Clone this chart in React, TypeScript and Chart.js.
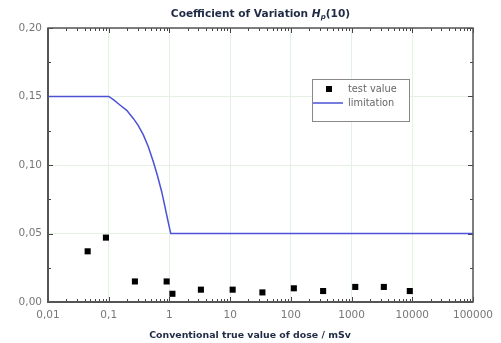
import React, { useEffect, useRef } from "react";
import { Chart, registerables } from "chart.js";

Chart.register(...registerables);

const testDose = [0.045, 0.09, 0.27, 0.9, 1.12, 3.3, 11, 34, 112, 340, 1150, 3400, 9100];
const testCV = [0.037, 0.047, 0.015, 0.015, 0.006, 0.009, 0.009, 0.007, 0.010, 0.008, 0.011, 0.011, 0.008];
const limitDose = [0.01, 0.1, 0.121, 0.153, 0.198, 0.254, 0.307, 0.372, 0.449, 0.543, 0.637, 0.746, 0.821, 0.902, 0.973, 1.05, 100000];
const limitCV = [0.15, 0.15, 0.1475, 0.1438, 0.1399, 0.134, 0.1288, 0.122, 0.1134, 0.1024, 0.092, 0.0805, 0.072, 0.0635, 0.0566, 0.05, 0.05];
const xTickLabels = ["0,01", "0,1", "1", "10", "100", "1000", "10000", "100000"];
const yTickLabels = ["0,00", "0,05", "0,10", "0,15", "0,20"];
const titleText = "Coefficient of Variation ";
const xTitle = "Conventional true value of dose / mSv";
const legendLabels = ["test value", "limitation"];

const FONT = "'DejaVu Sans', Verdana, sans-serif";

const decorPlugin = {
  id: "decor",
  beforeDatasetsDraw(chart: any) {
    const { ctx, chartArea: a, scales } = chart;
    const xs = scales.x;
    const ys = scales.y;
    ctx.save();
    ctx.strokeStyle = "#444";
    ctx.lineWidth = 1;
    for (let e = -2; e < 5; e++) {
      for (let m = 1; m <= 10; m++) {
        const v = m * Math.pow(10, e);
        const px = Math.round(xs.getPixelForValue(v)) + 0.5;
        const len = m === 1 || m === 10 ? 5 : 3;
        ctx.beginPath();
        ctx.moveTo(px, a.bottom);
        ctx.lineTo(px, a.bottom - len);
        ctx.moveTo(px, a.top);
        ctx.lineTo(px, a.top + len);
        ctx.stroke();
      }
    }
    for (let i = 0; i <= 8; i++) {
      const v = i * 0.025;
      const py = Math.round(ys.getPixelForValue(v)) + 0.5;
      const len = i % 2 === 0 ? 5 : 3;
      ctx.beginPath();
      ctx.moveTo(a.left, py);
      ctx.lineTo(a.left + len, py);
      ctx.moveTo(a.right, py);
      ctx.lineTo(a.right - len, py);
      ctx.stroke();
    }
    ctx.restore();
  },
  afterDraw(chart: any) {
    const { ctx, chartArea: a } = chart;
    ctx.save();
    ctx.strokeStyle = "#555";
    ctx.lineWidth = 1.5;
    ctx.strokeRect(a.left, a.top, a.right - a.left, a.bottom - a.top);
    ctx.lineWidth = 2;
    ctx.beginPath();
    ctx.moveTo(a.left, a.top);
    ctx.lineTo(a.left, a.bottom);
    ctx.lineTo(a.right, a.bottom);
    ctx.stroke();

    const cx = (a.left + a.right) / 2;
    const ty = 17;
    ctx.fillStyle = "#1f2a44";
    ctx.textBaseline = "alphabetic";
    const f1 = `bold 10.6px ${FONT}`;
    const f2 = `italic bold 10.6px ${FONT}`;
    const f3 = `italic bold 7px ${FONT}`;
    ctx.font = f1;
    const w1 = ctx.measureText(titleText).width;
    const w4 = ctx.measureText("(10)").width;
    ctx.font = f2;
    const w2 = ctx.measureText("H").width;
    ctx.font = f3;
    const w3 = ctx.measureText("p").width;
    let x = cx - (w1 + w2 + w3 + w4) / 2;
    ctx.textAlign = "left";
    ctx.font = f1;
    ctx.fillText(titleText, x, ty);
    x += w1;
    ctx.font = f2;
    ctx.fillText("H", x, ty);
    x += w2;
    ctx.font = f3;
    ctx.fillText("p", x, ty + 2);
    x += w3;
    ctx.font = f1;
    ctx.fillText("(10)", x, ty);

    ctx.font = `bold 9.4px ${FONT}`;
    ctx.textAlign = "center";
    ctx.fillText(xTitle, 250, 338);

    const lx = 312, ly = 79, lw = 97, lh = 42;
    ctx.fillStyle = "#fff";
    ctx.fillRect(lx, ly, lw, lh);
    ctx.strokeStyle = "#888";
    ctx.lineWidth = 1;
    ctx.strokeRect(lx + 0.5, ly + 0.5, lw, lh);
    ctx.fillStyle = "#000";
    ctx.fillRect(326, 86, 6, 6);
    ctx.strokeStyle = "#4b52d6";
    ctx.lineWidth = 1.5;
    ctx.beginPath();
    ctx.moveTo(313, 103);
    ctx.lineTo(343, 103);
    ctx.stroke();
    ctx.fillStyle = "#666";
    ctx.font = `9.8px ${FONT}`;
    ctx.textAlign = "left";
    ctx.textBaseline = "middle";
    ctx.fillText(legendLabels[0], 348, 89);
    ctx.fillText(legendLabels[1], 348, 103);
    ctx.restore();
  },
};

export default function App() {
  const ref = useRef<HTMLCanvasElement>(null);
  useEffect(() => {
    document.body.style.margin = "0";
    const chart = new Chart(ref.current as HTMLCanvasElement, {
      type: "scatter",
      data: {
        datasets: [
          {
            label: legendLabels[1],
            data: limitDose.map((d, i) => ({ x: d, y: limitCV[i] })),
            showLine: true,
            borderColor: "#4b52d6",
            borderWidth: 1.5,
            pointRadius: 0,
            tension: 0,
            fill: false,
          },
          {
            label: legendLabels[0],
            data: testDose.map((d, i) => ({ x: d, y: testCV[i] })),
            pointStyle: "rect",
            pointRadius: 4.3,
            backgroundColor: "#000",
            borderColor: "#000",
            borderWidth: 0,
          },
        ],
      },
      options: {
        animation: false,
        responsive: false,
        layout: { padding: { left: 0, right: 28, top: 28, bottom: 0 } },
        plugins: { legend: { display: false }, title: { display: false }, tooltip: { enabled: false } },
        scales: {
          x: {
            type: "logarithmic",
            min: 0.01,
            max: 100000,
            afterFit: (s: any) => { s.height = 41; },
            afterBuildTicks: (s: any) => {
              s.ticks = xTickLabels.map((_, i) => ({ value: Math.pow(10, i - 2) }));
            },
            ticks: {
              autoSkip: false,
              maxRotation: 0,
              padding: 7,
              color: "#777",
              font: { family: FONT, size: 10.5 },
              callback: (_v: any, i: number) => xTickLabels[i],
            },
            grid: { color: "#e4f2e4", drawTicks: false, lineWidth: 1 },
            border: { display: false },
          },
          y: {
            min: 0,
            max: 0.2,
            afterFit: (s: any) => { s.width = 48; },
            afterBuildTicks: (s: any) => {
              s.ticks = yTickLabels.map((_, i) => ({ value: i * 0.05 }));
            },
            ticks: {
              padding: 6,
              color: "#777",
              font: { family: FONT, size: 10.5 },
              callback: (_v: any, i: number) => yTickLabels[i],
            },
            grid: { color: "#e4f2e4", drawTicks: false, lineWidth: 1 },
            border: { display: false },
          },
        },
      },
      plugins: [decorPlugin],
    } as any);
    return () => chart.destroy();
  }, []);
  return (
    <div style={{ position: "absolute", left: 0, top: 0, width: 501, height: 343, background: "#fff" }}>
      <canvas ref={ref} width={501} height={343} style={{ width: 501, height: 343 }} />
    </div>
  );
}
